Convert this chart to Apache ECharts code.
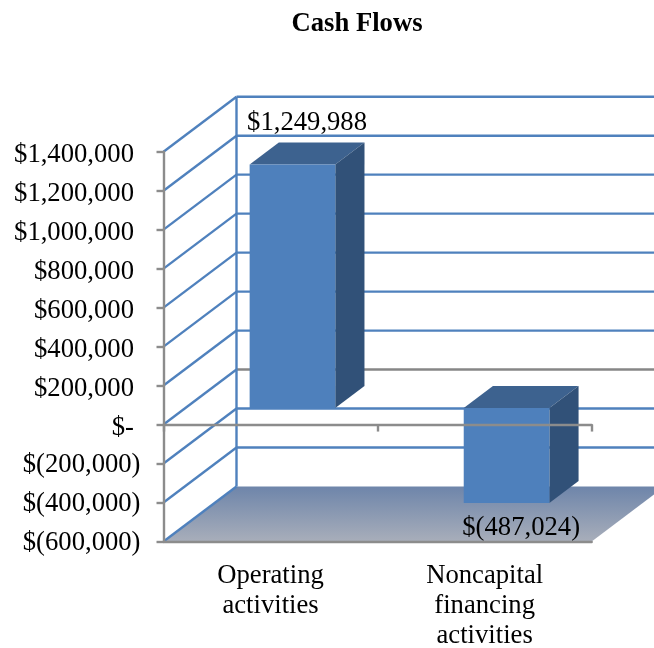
<!DOCTYPE html>
<html>
<head>
<meta charset="utf-8">
<style>
    html, body { margin: 0; padding: 0; background: #fff; }
    #chart { width: 654px; height: 648px; }
</style>
<script src="https://cdn.jsdelivr.net/npm/echarts@6/dist/echarts.min.js"></script>
</head>
<body>
<div id="chart"></div>
<script>
    var titleText = 'Cash Flows';
    var categories = ['Operating\nactivities', 'Noncapital\nfinancing\nactivities'];
    var values = [1249988, -487024];
    var yTicks = [-600000, -400000, -200000, 0, 200000, 400000, 600000, 800000, 1000000, 1200000, 1400000];

    // 3d look: how far the back wall sits from the front plane, in px
    var depthX = 73, depthY = -55;
    var barGap = 0.3, barDepth = 0.4, barWidth = 0.4;
    var serif = '"Liberation Serif", "Times New Roman", serif';
    var fontSize = 26.67;

    function money(v) {
        if (v === 0) return '$-';
        var s = Math.abs(v).toLocaleString('en-US');
        return v < 0 ? '$(' + s + ')' : '$' + s;
    }

    // accounting format: positive numbers leave room for the closing bracket
    function yLabel(v) {
        return (v < 0 ? '{n|' : '{p|') + money(v) + '}';
    }

    function line(x1, y1, x2, y2, color) {
        return {
            type: 'line',
            shape: { x1: x1, y1: y1, x2: x2, y2: y2 },
            style: { stroke: color, lineWidth: 2.4 }
        };
    }

    function poly(points, fill) {
        return { type: 'polygon', shape: { points: points }, style: { fill: fill } };
    }

    function drawWalls(params, api) {
        var v = api.value(1);
        var sys = params.coordSys;
        var y = api.coord([0, v])[1];
        var x0 = sys.x, x1 = sys.x + sys.width;
        var children = [line(x0, y, x0 + depthX, y + depthY, '#4f81bd')];
        if (v !== yTicks[0]) {
            children.push(line(x0 + depthX, y + depthY, x1 + depthX, y + depthY, v === 0 ? '#868686' : '#4f81bd'));
        }
        return { type: 'group', children: children };
    }

    function drawBackEdge(params, api) {
        var sys = params.coordSys;
        var top = api.coord([0, yTicks[yTicks.length - 1]])[1];
        var bottom = api.coord([0, yTicks[0]])[1];
        var x = sys.x + depthX;
        return line(x, top + depthY, x, bottom + depthY, '#4f81bd');
    }

    function drawFloor(params, api) {
        var sys = params.coordSys;
        var y = api.coord([0, yTicks[0]])[1];
        var x0 = sys.x, x1 = sys.x + sys.width;
        return {
            type: 'polygon',
            shape: { points: [[x0, y], [x0 + depthX, y + depthY], [x1 + depthX, y + depthY], [x1, y]] },
            style: {
                fill: new echarts.graphic.LinearGradient(0, 0, 0, 1, [
                    { offset: 0, color: '#6e85aa' },
                    { offset: 1, color: '#a8aeba' }
                ])
            }
        };
    }

    function drawBar(params, api) {
        var i = api.value(0), v = api.value(1);
        var band = api.size([1, 0])[0];
        var w = band * barWidth;
        var dx = depthX * barGap, dy = depthY * barGap;
        var ddx = depthX * barDepth, ddy = depthY * barDepth;
        var center = api.coord([i, 0])[0];
        var l = center - w / 2 + dx, r = l + w;
        var y1 = api.coord([i, Math.max(v, 0)])[1] + dy;
        var y2 = api.coord([i, Math.min(v, 0)])[1] + dy;
        var labelY = v >= 0 ? y1 + ddy - 19 : y2 + 25;
        return {
            type: 'group',
            children: [
                poly([[l, y1], [l + ddx, y1 + ddy], [r + ddx, y1 + ddy], [r, y1]], '#3d628f'),
                poly([[r, y1], [r + ddx, y1 + ddy], [r + ddx, y2 + ddy], [r, y2]], '#315178'),
                poly([[l, y1], [r, y1], [r, y2], [l, y2]], '#4e80bc'),
                {
                    type: 'text',
                    z2: 100,
                    style: {
                        text: money(v),
                        x: (l + r + ddx) / 2,
                        y: labelY,
                        align: 'center',
                        verticalAlign: 'middle',
                        fill: '#000',
                        font: fontSize + 'px ' + serif
                    }
                }
            ]
        };
    }

    var tickData = yTicks.map(function (v) { return [0, v]; });
    var barData = values.map(function (v, i) { return [i, v]; });

    var option = {
        animation: false,
        title: {
            text: titleText,
            left: 352,
            top: 6,
            textAlign: 'center',
            textStyle: { fontFamily: serif, fontSize: fontSize, fontWeight: 'bold', color: '#000' }
        },
        grid: { left: 163.5, top: 151.7, width: 428.2, height: 389.8, containLabel: false, outerBoundsMode: 'none' },
        xAxis: [
            {
                type: 'category',
                data: categories,
                position: 'bottom',
                axisLine: { onZero: false, lineStyle: { color: '#8c8c8c', width: 2.4 } },
                axisTick: { show: false },
                axisLabel: {
                    interval: 0,
                    margin: 19.5,
                    color: '#000',
                    fontFamily: serif,
                    fontSize: fontSize,
                    lineHeight: 30
                },
                z: 10
            },
            {
                type: 'category',
                data: categories,
                position: 'bottom',
                axisLine: { onZero: true, lineStyle: { color: '#8c8c8c', width: 2.4 } },
                axisTick: { show: true, length: 7, lineStyle: { color: '#8c8c8c', width: 2.4 } },
                axisLabel: { show: false },
                z: 10
            }
        ],
        yAxis: {
            type: 'value',
            min: -600000,
            max: 1400000,
            interval: 200000,
            axisLine: { show: true, onZero: false, lineStyle: { color: '#8c8c8c', width: 2.4 } },
            axisTick: { show: true, length: 7, lineStyle: { color: '#8c8c8c', width: 2.4 } },
            splitLine: { show: false },
            axisLabel: {
                margin: 23,
                padding: [6, 0, 0, 0],
                color: '#000',
                fontFamily: serif,
                fontSize: fontSize,
                formatter: yLabel,
                rich: {
                    p: {
                        color: '#000',
                        fontFamily: serif,
                        fontSize: fontSize,
                        padding: [0, 6.5, 0, 0]
                    },
                    n: {
                        color: '#000',
                        fontFamily: serif,
                        fontSize: fontSize,
                        padding: [0, 0, 3, 0]
                    }
                }
            },
            z: 10
        },
        series: [
            { type: 'custom', z: 1, silent: true, data: [[0, 0]], renderItem: drawFloor },
            { type: 'custom', z: 2, silent: true, data: tickData, renderItem: drawWalls },
            { type: 'custom', z: 2, silent: true, data: [[0, 0]], renderItem: drawBackEdge },
            { type: 'custom', z: 4, silent: true, data: barData, renderItem: drawBar }
        ]
    };

    var myChart = echarts.init(document.getElementById('chart'));
    myChart.setOption(option);
</script>
</body>
</html>
